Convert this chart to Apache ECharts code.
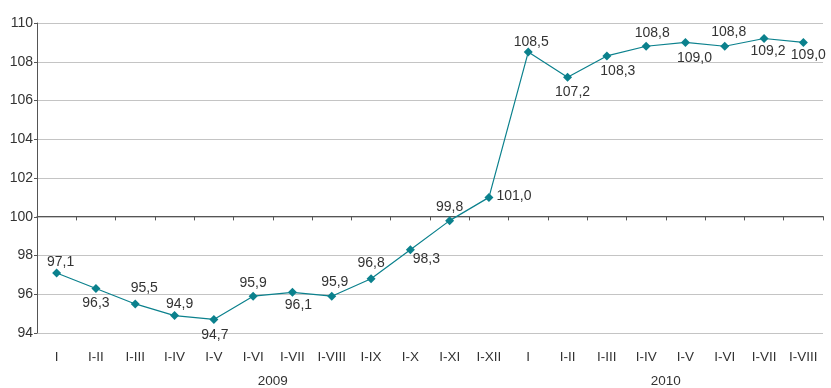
<!DOCTYPE html>
<html>
<head>
<meta charset="utf-8">
<script src="https://cdn.jsdelivr.net/npm/echarts@6/dist/echarts.min.js"></script>
<style>
html,body{margin:0;padding:0;background:#fff;}
#c{width:831px;height:388px;}
</style>
</head>
<body>
<div id="c"></div>
<script>
var categories = ['I','I-II','I-III','I-IV','I-V','I-VI','I-VII','I-VIII','I-IX','I-X','I-XI','I-XII',
                  'I','I-II','I-III','I-IV','I-V','I-VI','I-VII','I-VIII'];
var values = [97.1,96.3,95.5,94.9,94.7,95.9,96.1,95.9,96.8,98.3,99.8,101.0,
              108.5,107.2,108.3,108.8,109.0,108.8,109.2,109.0];
// label centre offset from its point, in pixels (style only)
var labelOffsets = [[4,-11],[0,15],[9,-16],[5,-11],[1,16],[0,-13],[6,13],[3,-14],[0,-16],[16,9],[0,-13],[25,-1],
                    [3,-10],[5,15],[11,15],[6,-13],[9,16],[4,-14],[4,13],[5,13]];
var years = ['2009','2010'];
var yearCenters = [6, 16];

var txt = '#333';
var font = '"Liberation Sans", Arial, sans-serif';

var seriesData = values.map(function(v, i){
  return {value: v, label: {position: 'inside', offset: labelOffsets[i]}};
});

var chart = echarts.init(document.getElementById('c'), null, {renderer:'canvas'});
chart.setOption({
  animation: false,
  backgroundColor: '#fff',
  textStyle: {fontFamily: font},
  grid: {left: 37, right: 8, top: 23, bottom: 54, containLabel: false},
  xAxis: [
    {
      type: 'category', data: categories, boundaryGap: true, position: 'bottom',
      axisLine: {show: false}, axisTick: {show: false}, splitLine: {show: false},
      axisLabel: {color: txt, fontSize: 13.5, fontFamily: font, margin: 17, interval: 0}
    },
    {
      type: 'category', data: categories, boundaryGap: true, position: 'bottom',
      offset: -116.6,
      axisLine: {show: true, lineStyle: {color: '#555', width: 1}},
      axisTick: {show: true, length: 4, interval: 0, lineStyle: {color: '#555'}},
      axisLabel: {show: false}, splitLine: {show: false}
    },
    {
      type: 'value', min: 0, max: 20, position: 'bottom',
      axisLine: {show: false}, axisTick: {show: false}, splitLine: {show: false},
      axisLabel: {
        show: true, customValues: yearCenters, color: txt, fontSize: 13.5, fontFamily: font, margin: 41,
        formatter: function(v){ var k = yearCenters.indexOf(v); return k >= 0 ? years[k] : ''; }
      }
    }
  ],
  yAxis: {
    type: 'value', min: 94, max: 110, interval: 2,
    axisLine: {show: true, lineStyle: {color: '#555', width: 1}},
    axisTick: {show: true, length: 3, lineStyle: {color: '#555'}},
    axisLabel: {color: txt, fontSize: 14, fontFamily: font, margin: 4},
    splitLine: {show: true, lineStyle: {color: '#c4c4c4', width: 1}}
  },
  series: [{
    type: 'line', xAxisIndex: 0, data: seriesData,
    symbol: 'diamond', symbolSize: 9,
    lineStyle: {color: '#0b818d', width: 1.2},
    itemStyle: {color: '#0b818d'},
    label: {
      show: true, color: txt, fontSize: 14, fontFamily: font,
      align: 'center', verticalAlign: 'middle',
      formatter: function(p){ return p.value.toFixed(1).replace('.', ','); }
    },
    z: 5
  }]
});
</script>
</body>
</html>
